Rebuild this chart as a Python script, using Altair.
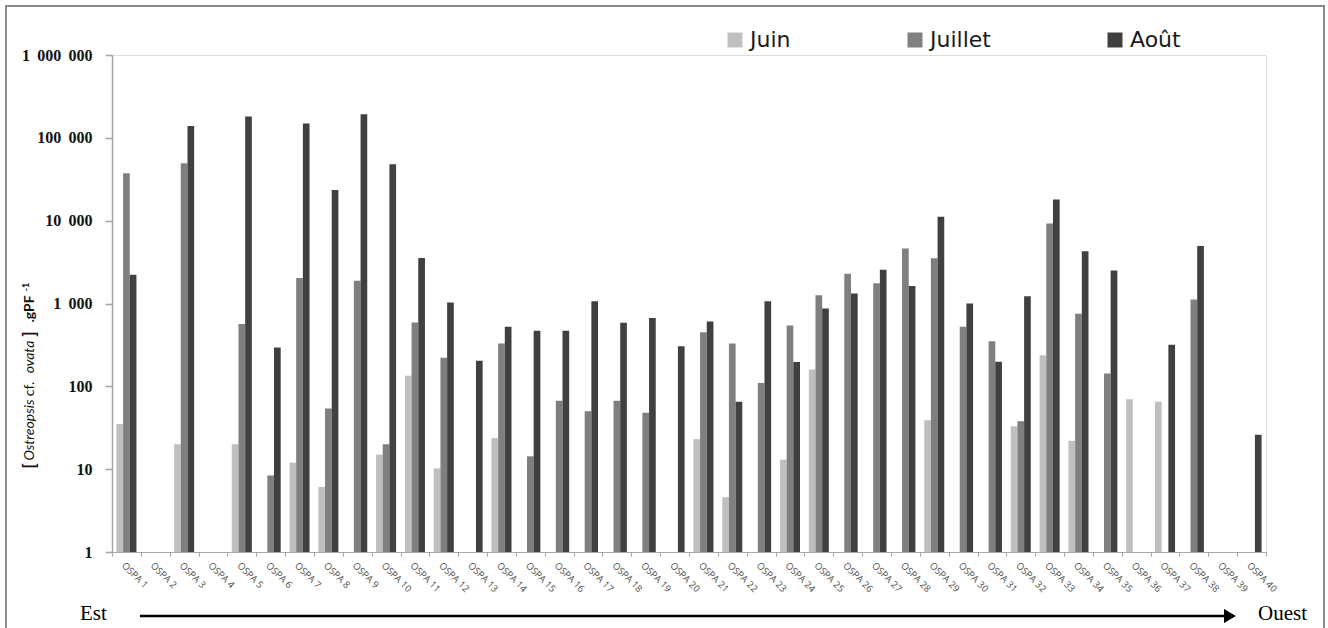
import altair as alt
import pandas as pd

# Sampling stations, ordered from east to west
stations = [f"OSPA {i}" for i in range(1, 41)]
mois = ["Juin", "Juillet", "Août"]
couleurs = ["#bfbfbf", "#7f7f7f", "#404040"]

# Ostreopsis cf. ovata abundances (cells per g of fresh weight); None = no value
juin = [35, None, 20, None, 20, None, 12, 6.1, None, 15,
        134, 10.2, None, 23.7, None, None, None, None, None, None,
        23, 4.6, None, 13, 160, None, None, None, 39, None,
        None, 33, 237, 22, None, 70, 65, None, None, None]
juillet = [37400, None, 49500, None, 564, 8.4, 2030, 54, 1880, 20,
           588, 222, None, 330, 14.3, 67, 50, 67, 48, None,
           449, 330, 110, 541, 1262, 2280, 1753, 4610, 3515, 525,
           349, 38, 9240, 752, 143, None, None, 1116, None, None]
aout = [2230, None, 139000, None, 181000, 295, 149000, 23400, 193000, 48000,
        3540, 1025, 203, 525, 470, 470, 1065, 585, 670, 305,
        605, 65, 1065, 197, 870, 1320, 2550, 1630, 11150, 1000,
        198, 1225, 18000, 4280, 2500, None, 317, 4930, None, 26]

# y axis ticks and their printed labels
y_ticks = [1, 10, 100, 1000, 10000, 100000, 1000000]
sep = "\u00a0\u2009"
y_labels = ["1", "10", "100", f"1{sep}000", f"10{sep}000", f"100{sep}000",
            f"1{sep}000{sep}000"]

rows = []
for serie, vals in zip(mois, [juin, juillet, aout]):
    for st, v in zip(stations, vals):
        if v is not None:
            rows.append({"station": st, "mois": serie, "valeur": v, "base": 1})
df = pd.DataFrame(rows)

label_expr = "''"
for t, lab in zip(y_ticks, y_labels):
    label_expr = f"datum.value == {t} ? '{lab}' : ({label_expr})"

W, H = 1154, 497

bars = alt.Chart(df).mark_bar().encode(
    x=alt.X("station:N",
            scale=alt.Scale(domain=stations, paddingInner=0, paddingOuter=0),
            axis=alt.Axis(title=None, tickBand="extent", labelAngle=45,
                          labelAlign="left", labelBaseline="top",
                          labelPadding=4, tickSize=4, labelFontSize=9.5,
                          labelFont="Open Sans", labelColor="#4d4d4d",
                          domainColor="#a6a6a6", tickColor="#a6a6a6",
                          labelOverlap=False)),
    xOffset=alt.XOffset("mois:N",
                        scale=alt.Scale(domain=mois, paddingInner=0, paddingOuter=0.66)),
    y=alt.Y("valeur:Q",
            scale=alt.Scale(type="log", domain=[1, 1000000]),
            axis=alt.Axis(title=None, values=y_ticks, labelExpr=label_expr,
                          grid=False, tickSize=7, labelPadding=13,
                          labelFont="Liberation Serif", labelFontWeight="bold",
                          labelFontSize=16, labelColor="#111111",
                          domainColor="#a6a6a6", domainWidth=1.5,
                          tickColor="#a6a6a6", tickWidth=1.5)),
    y2="base:Q",
    color=alt.Color("mois:N",
                    scale=alt.Scale(domain=mois, range=couleurs),
                    legend=alt.Legend(title=None, orient="none", direction="horizontal",
                                      legendX=612, legendY=-26, padding=0,
                                      symbolType="square", symbolSize=225,
                                      symbolStrokeWidth=0, labelFont="DejaVu Sans",
                                      labelFontSize=22, labelColor="#1a1a1a",
                                      labelOffset=4, columnPadding=113)),
)

one = pd.DataFrame({"k": [0]})

# Outer frame around the figure
frame = alt.Chart(one).mark_rect(fill="white", fillOpacity=0, stroke="#8c8c8c",
                                 strokeWidth=2).encode(
    x=alt.value(-106), x2=alt.value(1212), y=alt.value(-49), y2=alt.value(580))

# East -> West arrow under the axis
arrow_line = alt.Chart(one).mark_rule(color="black", strokeWidth=2.5).encode(
    x=alt.value(28), x2=alt.value(1115), y=alt.value(561))
arrow_head = alt.Chart(one).mark_point(shape="triangle-right", filled=True,
                                       color="black", opacity=1, size=190).encode(
    x=alt.value(1118), y=alt.value(561))
est = alt.Chart(one).mark_text(align="left", baseline="alphabetic",
                               font="Liberation Serif", fontSize=21,
                               color="black").encode(
    x=alt.value(-32), y=alt.value(565), text=alt.value("Est"))
ouest = alt.Chart(one).mark_text(align="left", baseline="alphabetic",
                                 font="Liberation Serif", fontSize=21,
                                 color="black").encode(
    x=alt.value(1146), y=alt.value(565), text=alt.value("Ouest"))

# Rotated y axis title with italic species name
def piece(txt, ycen, style="normal", weight="normal", size=14, dx=0):
    return alt.Chart(one).mark_text(angle=270, align="center", baseline="middle",
                                    font="Lato", fontSize=size, fontStyle=style,
                                    fontWeight=weight, color="#111111").encode(
        x=alt.value(-82 + dx), y=alt.value(ycen - 55), text=alt.value(txt))

title = [
    piece("[", 466, weight="bold", size=17),
    piece("Ostreopsis", 430, style="italic"),
    piece("cf.", 389),
    piece("ovata", 357, style="italic"),
    piece("]", 334, weight="bold", size=17),
    piece(".gPF", 309, weight="bold"),
    piece("-1", 287, weight="bold", size=9, dx=-4),
]

chart = alt.layer(frame, bars, arrow_line, arrow_head, est, ouest, *title).properties(
    width=W, height=H,
    padding={"left": 112, "top": 55, "right": 62, "bottom": 76},
    autosize=alt.AutoSizeParams(type="none"),
).configure_view(stroke=None).configure(background="white")

chart.save("out.html", embed_options={"renderer": "svg", "actions": False})
